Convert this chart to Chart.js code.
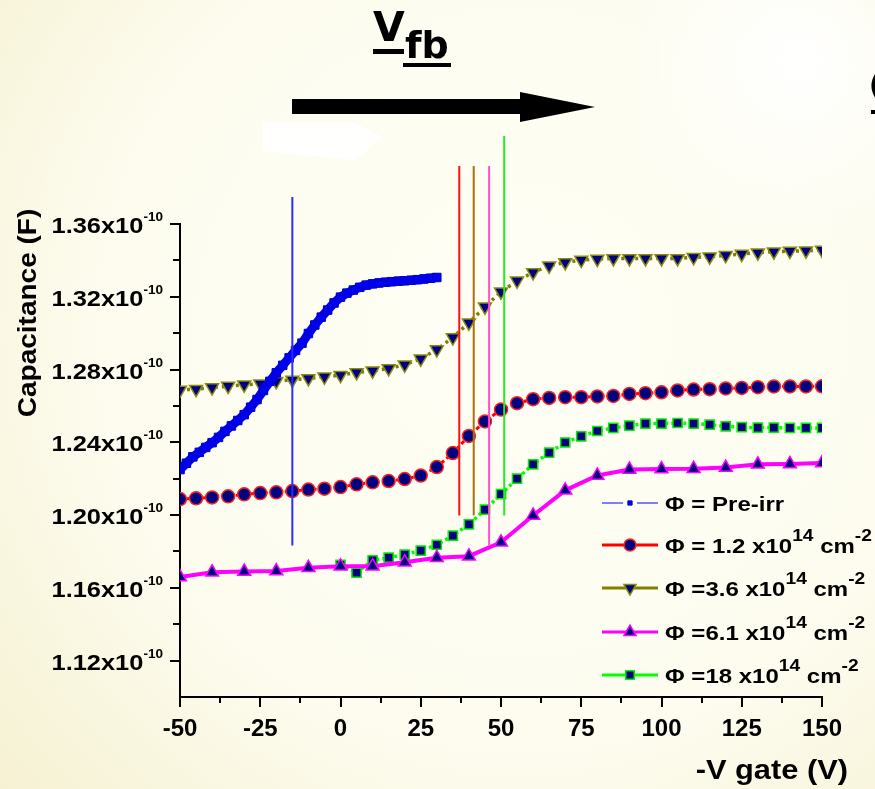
<!DOCTYPE html>
<html>
<head>
<meta charset="utf-8">
<script src="https://cdn.jsdelivr.net/npm/chart.js@4.4.0/dist/chart.umd.min.js"></script>
<style>
  html, body { margin: 0; padding: 0; background: #fdfdf1; }
  #wrap { width: 875px; height: 789px; }
</style>
</head>
<body>
<div id="wrap"><canvas id="cv" width="875" height="789"></canvas></div>
<script>
// gate voltage grids (V) and capacitance (x10^-10 F)
const gatePre = [-50, -48, -46, -44, -42, -40, -38, -36, -34, -32, -30, -28, -26, -24, -22, -20, -18, -16, -14, -12,
  -10, -8, -6, -4, -2, 0, 2, 4, 6, 8, 10, 12, 14, 16, 18, 20, 22, 24, 26, 28, 30];
const gate5 = [-50, -45, -40, -35, -30, -25, -20, -15, -10, -5, 0, 5, 10, 15, 20, 25, 30, 35, 40, 45, 50, 55, 60, 65, 70,
  75, 80, 85, 90, 95, 100, 105, 110, 115, 120, 125, 130, 135, 140, 145, 150];
const gate10 = [-50, -40, -30, -20, -10, 0, 10, 20, 30, 40, 50, 60, 70, 80, 90, 100, 110, 120, 130, 140, 150];
const gate18 = [0, 5, 10, 15, 20, 25, 30, 35, 40, 45, 50, 55, 60, 65, 70, 75, 80, 85, 90, 95, 100, 105, 110, 115, 120,
  125, 130, 135, 140, 145, 150];

const capPre = [1.2250, 1.2285, 1.2320, 1.2345, 1.2372, 1.2398, 1.2427, 1.2460, 1.2490, 1.2520, 1.2552, 1.2593, 1.2635,
  1.2685, 1.2735, 1.2782, 1.2823, 1.2864, 1.2905, 1.2945, 1.2998, 1.3045, 1.3088, 1.3127, 1.3166, 1.3198, 1.3220,
  1.3237, 1.3252, 1.3264, 1.3271, 1.3276, 1.3280, 1.3283, 1.3286, 1.3288, 1.3291, 1.3294, 1.3298, 1.3302, 1.3306];
const cap12 = [1.2088, 1.2092, 1.2097, 1.2103, 1.2114, 1.2121, 1.2125, 1.2132, 1.2140, 1.2145, 1.2154, 1.2169, 1.2180,
  1.2187, 1.2198, 1.2217, 1.2264, 1.2341, 1.2435, 1.2515, 1.2580, 1.2615, 1.2637, 1.2644, 1.2648, 1.2648, 1.2652,
  1.2655, 1.2666, 1.2670, 1.2675, 1.2685, 1.2690, 1.2692, 1.2696, 1.2699, 1.2703, 1.2707, 1.2707, 1.2707, 1.2708];
const cap36 = [1.2688, 1.2692, 1.2701, 1.2709, 1.2716, 1.2722, 1.2735, 1.2743, 1.2751, 1.2760, 1.2769, 1.2784, 1.2793,
  1.2806, 1.2826, 1.2859, 1.2910, 1.2976, 1.3057, 1.3145, 1.3227, 1.3288, 1.3334, 1.3370, 1.3389, 1.3402, 1.3407,
  1.3411, 1.3411, 1.3411, 1.3411, 1.3411, 1.3417, 1.3420, 1.3428, 1.3435, 1.3442, 1.3448, 1.3451, 1.3453, 1.3457];
const cap61 = [1.1659, 1.1686, 1.1690, 1.1692, 1.1710, 1.1719, 1.1719, 1.1741, 1.1766, 1.1774, 1.1850, 1.1998, 1.2136,
  1.2218, 1.2251, 1.2253, 1.2255, 1.2261, 1.2279, 1.2281, 1.2286];
const cap18 = [1.1727, 1.1683, 1.1751, 1.1766, 1.1783, 1.1805, 1.1837, 1.1887, 1.1949, 1.2030, 1.2115, 1.2200, 1.2279,
  1.2343, 1.2399, 1.2433, 1.2462, 1.2479, 1.2492, 1.2503, 1.2503, 1.2506, 1.2503, 1.2497, 1.2488, 1.2483, 1.2481,
  1.2481, 1.2479, 1.2479, 1.2479];

// flat-band voltage markers: position, lower and upper ends
const vfbGate = [-15, 37, 41.5, 46.3, 51];
const vfbLow = [1.1833, 1.1998, 1.1998, 1.1833, 1.1998];
const vfbHigh = [1.3749, 1.3919, 1.3919, 1.3919, 1.4084];
const vfbColors = ['#2b2bff', '#ff1010', '#a8720e', '#ff50c8', '#22ee22'];

// axis ticks
const xTicks = [-50, -25, 0, 25, 50, 75, 100, 125, 150];
const yTicks = [1.12, 1.16, 1.20, 1.24, 1.28, 1.32, 1.36];
const yTickText = ['1.12x10', '1.16x10', '1.20x10', '1.24x10', '1.28x10', '1.32x10', '1.36x10'];
const yTickExp = '-10';

// legend entries: [text, superscript?]
const legendText = [
  [['Φ = Pre-irr', false]],
  [['Φ = 1.2 x10', false], ['14', true], [' cm', false], ['-2', true]],
  [['Φ =3.6 x10', false], ['14', true], [' cm', false], ['-2', true]],
  [['Φ =6.1 x10', false], ['14', true], [' cm', false], ['-2', true]],
  [['Φ =18 x10', false], ['14', true], [' cm', false], ['-2', true]]
];

const NAVY = '#000080';
const FONT = '"Liberation Sans", Arial, sans-serif';

function pairs(xs, ys) {
  return xs.map((x, i) => ({ x: x, y: ys[i] }));
}

const vfbSets = vfbGate.map((g, i) => ({
  data: [{ x: g, y: vfbLow[i] }, { x: g, y: vfbHigh[i] }],
  borderColor: vfbColors[i],
  borderWidth: 2,
  pointRadius: 0,
  clip: false
}));

const series = [
  { label: 'Pre-irr', data: pairs(gatePre, capPre), borderColor: '#0000ff', borderWidth: 9,
    pointStyle: 'rect', pointRadius: 6, pointBackgroundColor: '#0000f0', pointBorderColor: '#0000c8', pointBorderWidth: 1 },
  { label: '1.2', data: pairs(gate5, cap12), borderColor: '#ff0000', borderWidth: 3, borderDash: [4, 3],
    pointStyle: 'circle', pointRadius: 6.5, pointBackgroundColor: NAVY, pointBorderColor: '#ff2020', pointBorderWidth: 1.5 },
  { label: '3.6', data: pairs(gate5, cap36), borderColor: '#808000', borderWidth: 3.5, borderDash: [3, 4],
    pointStyle: 'triangle', pointRotation: 180, pointRadius: 7.5, pointBackgroundColor: NAVY, pointBorderColor: '#8a8a10', pointBorderWidth: 1.5 },
  { label: '6.1', data: pairs(gate10, cap61), borderColor: '#ff00ff', borderWidth: 4,
    pointStyle: 'triangle', pointRadius: 7.5, pointBackgroundColor: NAVY, pointBorderColor: '#ff00ff', pointBorderWidth: 1.5 },
  { label: '18', data: pairs(gate18, cap18), borderColor: '#00ff00', borderWidth: 3.5, borderDash: [3, 3],
    pointStyle: 'rect', pointRadius: 6.5, pointBackgroundColor: NAVY, pointBorderColor: '#00ee00', pointBorderWidth: 1.5 }
];

// text with superscripts, optionally stretched horizontally
function richText(ctx, parts, x, y, size, supSize, supRise, stretch, align) {
  ctx.save();
  ctx.translate(x, y);
  ctx.scale(stretch, 1);
  let total = 0;
  parts.forEach(p => {
    ctx.font = 'bold ' + (p[1] ? supSize : size) + 'px ' + FONT;
    total += ctx.measureText(p[0]).width;
  });
  let cx = align === 'right' ? -total : align === 'center' ? -total / 2 : 0;
  ctx.textAlign = 'left';
  ctx.textBaseline = 'alphabetic';
  parts.forEach(p => {
    ctx.font = 'bold ' + (p[1] ? supSize : size) + 'px ' + FONT;
    ctx.fillText(p[0], cx, p[1] ? -supRise : 0);
    cx += ctx.measureText(p[0]).width;
  });
  ctx.restore();
}

const decor = {
  id: 'decor',
  beforeDraw(chart) {
    const ctx = chart.ctx;
    ctx.save();
    const g = ctx.createRadialGradient(520, 330, 60, 520, 330, 700);
    g.addColorStop(0, '#fefef4');
    g.addColorStop(0.55, '#fdfcef');
    g.addColorStop(1, '#f6f1d2');
    ctx.fillStyle = g;
    ctx.fillRect(0, 0, chart.width, chart.height);
    // soft white patch upper right
    const w = ctx.createRadialGradient(800, 60, 10, 800, 60, 190);
    w.addColorStop(0, 'rgba(255,255,255,0.9)');
    w.addColorStop(1, 'rgba(255,255,255,0)');
    ctx.fillStyle = w;
    ctx.fillRect(600, 0, 275, 260);
    // faint white arrow below the black one
    ctx.fillStyle = 'rgba(255,255,255,0.85)';
    ctx.beginPath();
    ctx.moveTo(263, 123);
    ctx.lineTo(355, 123);
    ctx.lineTo(383, 137);
    ctx.lineTo(355, 160);
    ctx.lineTo(263, 151);
    ctx.closePath();
    ctx.fill();
    ctx.restore();
  },
  afterDraw(chart) {
    const ctx = chart.ctx;
    const xs = chart.scales.x, ys = chart.scales.y;
    const area = chart.chartArea;
    ctx.save();
    ctx.strokeStyle = '#000';
    ctx.fillStyle = '#000';
    ctx.lineWidth = 2;

    // x ticks, major and minor
    ctx.beginPath();
    xTicks.forEach((v, i) => {
      const px = Math.round(xs.getPixelForValue(v));
      ctx.moveTo(px, area.bottom); ctx.lineTo(px, area.bottom + 10);
      if (i < xTicks.length - 1) {
        const mx = Math.round(xs.getPixelForValue((v + xTicks[i + 1]) / 2));
        ctx.moveTo(mx, area.bottom); ctx.lineTo(mx, area.bottom + 6);
      }
    });
    // y ticks, major and minor
    yTicks.forEach((v, i) => {
      const py = Math.round(ys.getPixelForValue(v));
      ctx.moveTo(area.left, py); ctx.lineTo(area.left - 10, py);
      if (i < yTicks.length - 1) {
        const my = Math.round(ys.getPixelForValue((v + yTicks[i + 1]) / 2));
        ctx.moveTo(area.left, my); ctx.lineTo(area.left - 7, my);
      }
    });
    ctx.stroke();

    // y tick labels with exponent
    yTicks.forEach((v, i) => {
      const py = ys.getPixelForValue(v);
      richText(ctx, [[yTickText[i], false], [yTickExp, true]], 163, py + 9, 22.5, 12, 12, 1.13, 'right');
    });

    // axis titles
    ctx.save();
    ctx.translate(36, 313);
    ctx.rotate(-Math.PI / 2);
    ctx.scale(1.12, 1);
    ctx.font = 'bold 25px ' + FONT;
    ctx.textAlign = 'center';
    ctx.textBaseline = 'alphabetic';
    ctx.fillText('Capacitance (F)', 0, 0);
    ctx.restore();
    richText(ctx, [['-V gate (V)', false]], 848, 779, 28, 20, 0, 1.1, 'right');

    // legend
    const lx0 = 602, lx1 = 658, lmid = 630, tx = 665;
    const rowY = [503, 545, 588, 632, 675];
    chart.data.datasets.filter(d => d.label).forEach((d, i) => {
      const y = rowY[i];
      ctx.save();
      ctx.strokeStyle = d.borderColor;
      if (i === 0) {
        ctx.lineWidth = 1;
        ctx.beginPath();
        ctx.moveTo(lx0, y); ctx.lineTo(lx0 + 21, y);
        ctx.moveTo(lx1 - 21, y); ctx.lineTo(lx1, y);
        ctx.stroke();
      } else {
        ctx.lineWidth = 3;
        ctx.beginPath();
        ctx.moveTo(lx0, y); ctx.lineTo(lx1, y);
        ctx.stroke();
      }
      ctx.fillStyle = d.pointBackgroundColor;
      ctx.strokeStyle = d.pointBorderColor;
      ctx.lineWidth = d.pointBorderWidth;
      Chart.helpers.drawPoint(ctx, {
        pointStyle: d.pointStyle,
        rotation: d.pointRotation || 0,
        radius: i === 0 ? 3 : d.pointRadius - 0.5,
        borderWidth: d.pointBorderWidth
      }, lmid, y);
      ctx.restore();
      ctx.fillStyle = '#000';
      richText(ctx, legendText[i], tx, y + 8, 20, 16, 12, 1.2, 'left');
    });

    // V_fb heading with underlines
    ctx.fillStyle = '#000';
    ctx.textAlign = 'left';
    ctx.textBaseline = 'alphabetic';
    ctx.font = 'bold 41px "DejaVu Sans", sans-serif';
    ctx.fillText('V', 373, 41);
    ctx.font = 'bold 38px "DejaVu Sans", sans-serif';
    ctx.fillText('fb', 405, 58);
    ctx.fillRect(373, 49, 31, 5);
    ctx.fillRect(403, 63, 48, 4);

    // shift arrow
    ctx.beginPath();
    ctx.moveTo(292, 99);
    ctx.lineTo(520, 99);
    ctx.lineTo(520, 92);
    ctx.lineTo(595, 107);
    ctx.lineTo(520, 122);
    ctx.lineTo(520, 114);
    ctx.lineTo(292, 114);
    ctx.closePath();
    ctx.fill();

    // clipped glyph at the right edge
    ctx.font = 'bold 28px "DejaVu Sans", sans-serif';
    ctx.fillText('(', 869, 95);
    ctx.fillRect(871, 110, 4, 4);
    ctx.restore();
  }
};

new Chart(document.getElementById('cv').getContext('2d'), {
  type: 'line',
  data: { datasets: vfbSets.concat(series) },
  options: {
    responsive: false,
    animation: false,
    events: [],
    layout: { padding: { top: 224, right: 53, left: 0, bottom: 0 } },
    elements: { line: { tension: 0 } },
    plugins: { legend: { display: false }, tooltip: { enabled: false } },
    scales: {
      x: {
        type: 'linear',
        min: -50,
        max: 150,
        afterBuildTicks: s => { s.ticks = xTicks.map(v => ({ value: v })); },
        afterFit: s => { s.height = 92; },
        grid: { display: false },
        border: { display: true, color: '#000', width: 2 },
        ticks: { color: '#000', padding: 10, maxRotation: 0, font: { family: FONT, weight: 'bold', size: 24 } }
      },
      y: {
        type: 'linear',
        min: 1.10,
        max: 1.36,
        afterFit: s => { s.width = 180; },
        grid: { display: false },
        border: { display: true, color: '#000', width: 2 },
        ticks: { display: false }
      }
    }
  },
  plugins: [decor]
});
</script>
</body>
</html>
